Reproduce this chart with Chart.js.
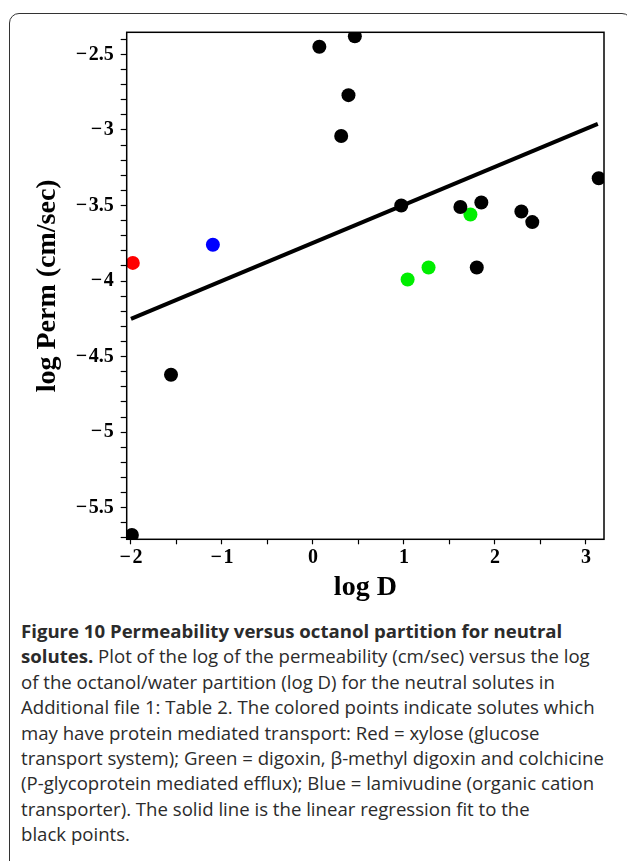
<!DOCTYPE html>
<html>
<head>
<meta charset="utf-8">
<script src="https://cdn.jsdelivr.net/npm/chart.js@4.4.1/dist/chart.umd.min.js"></script>
<style>
html,body{margin:0;padding:0;background:#fff;width:627px;height:861px;overflow:hidden;}
#frame{position:absolute;left:9px;top:13px;width:623px;height:900px;border:1.5px solid #333;border-radius:10px;box-sizing:border-box;}
#wrap{position:absolute;left:0;top:0;width:627px;height:602px;}
#caption{position:absolute;left:21px;top:618px;font-family:"Open Sans",sans-serif;font-size:18.6px;line-height:25.4px;color:#2b2b2b;white-space:nowrap;}
#caption b{font-weight:700;}
</style>
</head>
<body>
<div id="frame"></div>
<div id="wrap"><canvas id="c"></canvas></div>
<div id="caption"><b>Figure 10 Permeability versus octanol partition for neutral</b><br><b>solutes.</b> Plot of the log of the permeability (cm/sec) versus the log<br>of the octanol/water partition (log D) for the neutral solutes in<br>Additional file 1: Table 2. The colored points indicate solutes which<br>may have protein mediated transport: Red = xylose (glucose<br>transport system); Green = digoxin, β-methyl digoxin and colchicine<br>(P-glycoprotein mediated efflux); Blue = lamivudine (organic cation<br>transporter). The solid line is the linear regression fit to the<br>black points.</div>
<script>
// ---- data ----
const blackX = [-1.99, -1.56, 0.07, 0.31, 0.39, 0.46, 0.97, 1.62, 1.80, 1.85, 2.29, 2.41, 3.14];
const blackY = [-5.68, -4.62, -2.45, -3.04, -2.77, -2.38, -3.50, -3.51, -3.91, -3.48, -3.54, -3.61, -3.32];
const redX = [-1.98];
const redY = [-3.88];
const blueX = [-1.10];
const blueY = [-3.76];
const greenX = [1.04, 1.27, 1.73];
const greenY = [-3.99, -3.91, -3.56];
const fitX = [-2.00, 3.13];
const fitY = [-4.25, -2.96];

// ---- axis ticks ----
const xTickLabels = [-2, -1, 0, 1, 2, 3];
const xMinorTicks = [-1.5, -0.5, 0.5, 1.5, 2.5];
const yTickLabels = [-5.5, -5, -4.5, -4, -3.5, -3, -2.5];
const yMinorStep = 0.1;
const xMin = -2.047, xMax = 3.198;
const yMin = -5.709, yMax = -2.354;

const pts = (xs, ys) => xs.map((x, i) => ({x: x, y: ys[i]}));
const fmt = v => (v < 0 ? '\u2212\u200A' + String(Math.abs(v)) : String(v));

const yAllTicks = [];
for (let v = Math.ceil(yMin / yMinorStep) * yMinorStep; v <= yMax + 1e-9; v += yMinorStep) {
  yAllTicks.push(Math.round(v * 10) / 10);
}
const xAllTicks = xTickLabels.concat(xMinorTicks).sort((a, b) => a - b);

const serifBold = (size) => ({family: '"Liberation Serif","Times New Roman",serif', weight: 'bold', size: size});

const frameBox = {
  id: 'frameBox',
  afterDraw(chart) {
    const {ctx, chartArea: a} = chart;
    ctx.save();
    ctx.strokeStyle = '#000';
    ctx.lineWidth = 1.5;
    ctx.strokeRect(a.left, a.top, a.right - a.left, a.bottom - a.top);
    ctx.restore();
  }
};

new Chart(document.getElementById('c'), {
  type: 'scatter',
  data: {
    datasets: [
      {data: pts(blackX, blackY), backgroundColor: '#000', borderWidth: 0, pointRadius: 7},
      {data: pts(redX, redY), backgroundColor: '#ff0000', borderWidth: 0, pointRadius: 7},
      {data: pts(blueX, blueY), backgroundColor: '#0000ff', borderWidth: 0, pointRadius: 7},
      {data: pts(greenX, greenY), backgroundColor: '#00ee00', borderWidth: 0, pointRadius: 7},
      {type: 'line', data: pts(fitX, fitY), borderColor: '#000', borderWidth: 4, pointRadius: 0, showLine: true, fill: false, tension: 0}
    ]
  },
  options: {
    responsive: true,
    maintainAspectRatio: false,
    animation: false,
    layout: {padding: {left: 0, top: 32.3, right: 23, bottom: 0}},
    plugins: {legend: {display: false}, tooltip: {enabled: false}},
    scales: {
      x: {
        type: 'linear', position: 'bottom', min: xMin, max: xMax,
        afterBuildTicks: s => { s.ticks = xAllTicks.map(v => ({value: v})); },
        afterFit: s => { s.height = 62.7; },
        grid: {drawOnChartArea: false, drawTicks: true, tickLength: 5, tickColor: '#000', tickWidth: 1.2},
        border: {display: false},
        ticks: {autoSkip: false, maxRotation: 0, padding: 2, color: '#000', font: serifBold(20),
          callback: v => (xTickLabels.indexOf(v) >= 0 ? fmt(v) : '')},
        title: {display: true, text: 'log D', color: '#000', font: Object.assign(serifBold(28), {lineHeight: 1}), padding: {top: 0, bottom: 0}}
      },
      y: {
        type: 'linear', position: 'left', min: yMin, max: yMax,
        afterBuildTicks: s => { s.ticks = yAllTicks.map(v => ({value: v})); },
        afterFit: s => { s.width = 126.7; },
        grid: {drawOnChartArea: false, drawTicks: true, tickLength: 6, tickColor: '#000', tickWidth: 1.2},
        border: {display: false},
        ticks: {autoSkip: false, padding: 7, color: '#000', font: serifBold(20),
          callback: v => (yTickLabels.some(t => Math.abs(t - v) < 1e-6) ? fmt(Math.round(v * 10) / 10) : '')},
        title: {display: true, text: 'log Perm (cm/sec)', color: '#000', font: Object.assign(serifBold(28), {lineHeight: 1}), padding: {top: 33.5, bottom: 0}}
      }
    }
  },
  plugins: [frameBox]
});
</script>
</body>
</html>
